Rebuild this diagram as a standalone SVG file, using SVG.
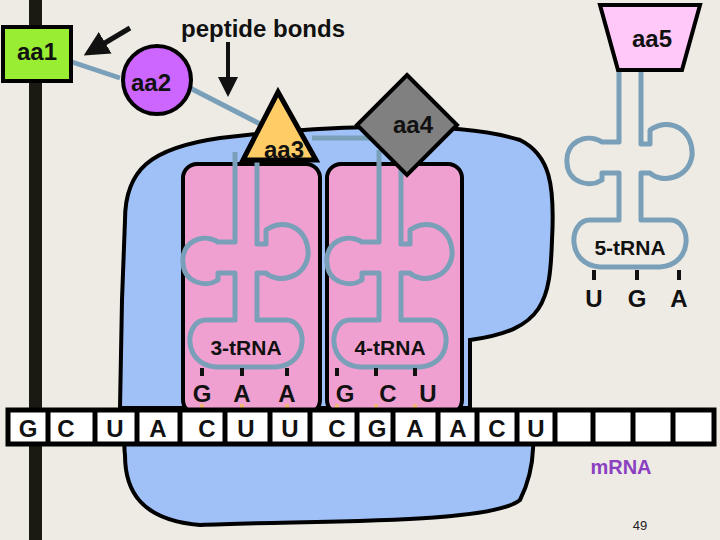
<svg xmlns="http://www.w3.org/2000/svg" width="720" height="540" viewBox="0 0 720 540">
<defs>
<style>
text{font-family:"Liberation Sans",Arial,sans-serif;font-weight:bold;}
.lbl{font-size:24px;fill:#111;}
.base{font-size:24px;fill:#111;text-anchor:middle;}
.trna{fill:none;stroke:#7a9fb8;stroke-width:5;stroke-linejoin:round;}
.tick{stroke:#111;stroke-width:4;}
.pair{stroke:#f0b870;stroke-width:4;}
.tlab{font-size:21px;fill:#111;text-anchor:middle;}
.pink{fill:#f0a0d0;stroke:#000;stroke-width:4;}
</style>
<marker id="ah" viewBox="0 0 10 10" refX="8" refY="5" markerWidth="5" markerHeight="5" orient="auto"><path d="M0,0L10,5L0,10z" fill="#111"/></marker>
<path id="clover" class="trna" d="M-11,-150 V-126 H-28 C-45,-136 -65,-125 -63,-105 C-62,-85 -40,-80 -28,-88 V-95 H-11 V-48 H-40 C-62,-48 -64,-3 -30,-1 H30 C64,-3 62,-48 40,-48 H11 V-95 H20 C30,-85 58,-88 62,-112 C64,-138 40,-152 20,-138 V-124 H11 V-150"/>
</defs>
<rect width="720" height="540" fill="#edebe4"/>
<rect x="29" y="0" width="13" height="540" fill="#1a1a12"/>
<g id="ribosome">
<path d="M125,455 C120,420 150,410 160,410 L520,410 C540,420 535,470 520,500 C490,525 300,520 200,525 C140,520 125,490 125,455Z" fill="#a0c0f8" stroke="#000" stroke-width="4"/>
<path d="M125,220 C125,170 150,148 220,138 C300,128 450,118 520,140 C550,155 555,185 552,240 C550,300 545,330 470,340 L470,408 L120,408 L122,300 Z" fill="#a0c0f8" stroke="#000" stroke-width="4"/>
</g>
<g id="site3"><rect class="pink" x="183" y="164" width="137" height="250" rx="14"/></g>
<g id="site4"><rect class="pink" x="327" y="164" width="135" height="250" rx="14"/></g>
<g id="connectors">
<line x1="72" y1="62" x2="120" y2="78" stroke="#7a9fb8" stroke-width="5"/>
<line x1="190" y1="88" x2="262" y2="125" stroke="#7a9fb8" stroke-width="5"/>
<line x1="312" y1="138" x2="395" y2="138" stroke="#7a9fb8" stroke-width="5"/>
<line x1="130" y1="28" x2="88" y2="53" stroke="#111" stroke-width="5" marker-end="url(#ah)"/>
<line x1="228" y1="42" x2="228" y2="93" stroke="#111" stroke-width="4" marker-end="url(#ah)"/>
</g>
<g id="trna3"><use href="#clover" x="246" y="368"/><path class="trna" d="M235,218 V152 M257,218 V160"/><text class="tlab" x="246" y="355">3-tRNA</text></g>
<g id="trna4"><use href="#clover" x="390" y="368"/><path class="trna" d="M379,218 V150 M401,218 V158"/><text class="tlab" x="390" y="355">4-tRNA</text></g>
<g id="trna5"><use href="#clover" x="630" y="268"/><path class="trna" d="M619,118 V60 M641,118 V60"/><text class="tlab" x="630" y="255">5-tRNA</text></g>
<g id="anticodons">
<line class="tick" x1="202" y1="368" x2="202" y2="376"/><line class="tick" x1="242" y1="368" x2="242" y2="376"/><line class="tick" x1="287" y1="368" x2="287" y2="376"/>
<line class="tick" x1="337" y1="368" x2="337" y2="376"/><line class="tick" x1="376" y1="368" x2="376" y2="376"/><line class="tick" x1="415" y1="368" x2="415" y2="376"/>
<line class="tick" x1="594" y1="270" x2="594" y2="280"/><line class="tick" x1="637" y1="270" x2="637" y2="280"/><line class="tick" x1="679" y1="270" x2="679" y2="280"/>
<text class="base" x="202" y="402">G</text><text class="base" x="242" y="402">A</text><text class="base" x="287" y="402">A</text>
<text class="base" x="345" y="402">G</text><text class="base" x="388" y="402">C</text><text class="base" x="428" y="402">U</text>
<text class="base" x="594" y="307">U</text><text class="base" x="637" y="307">G</text><text class="base" x="679" y="307">A</text>
<line class="pair" x1="202" y1="404" x2="202" y2="412"/><line class="pair" x1="242" y1="404" x2="242" y2="412"/><line class="pair" x1="287" y1="404" x2="287" y2="412"/>
<line class="pair" x1="337" y1="404" x2="337" y2="412"/><line class="pair" x1="376" y1="404" x2="376" y2="412"/><line class="pair" x1="415" y1="404" x2="415" y2="412"/>
</g>
<g id="mrna">
<rect x="8" y="410" width="706" height="34" fill="#fff" stroke="#000" stroke-width="5"/>
<g stroke="#000" stroke-width="5">
<line x1="48" y1="410" x2="48" y2="444"/><line x1="95" y1="410" x2="95" y2="444"/><line x1="137" y1="410" x2="137" y2="444"/>
<line x1="180" y1="410" x2="180" y2="444"/><line x1="225" y1="410" x2="225" y2="444"/><line x1="270" y1="410" x2="270" y2="444"/>
<line x1="310" y1="410" x2="310" y2="444"/><line x1="357" y1="410" x2="357" y2="444"/><line x1="393" y1="410" x2="393" y2="444"/>
<line x1="438" y1="410" x2="438" y2="444"/><line x1="477" y1="410" x2="477" y2="444"/><line x1="517" y1="410" x2="517" y2="444"/>
<line x1="555" y1="410" x2="555" y2="444"/><line x1="593" y1="410" x2="593" y2="444"/><line x1="633" y1="410" x2="633" y2="444"/><line x1="673" y1="410" x2="673" y2="444"/>
</g>
<text class="base" x="28" y="437">G</text><text class="base" x="66" y="437">C</text><text class="base" x="115" y="437">U</text>
<text class="base" x="158" y="437">A</text><text class="base" x="207" y="437">C</text><text class="base" x="246" y="437">U</text>
<text class="base" x="290" y="437">U</text><text class="base" x="337" y="437">C</text><text class="base" x="377" y="437">G</text>
<text class="base" x="415" y="437">A</text><text class="base" x="458" y="437">A</text><text class="base" x="497" y="437">C</text><text class="base" x="536" y="437">U</text>
<text x="621" y="474" font-size="20" fill="#8a40c0" text-anchor="middle">mRNA</text>
</g>
<g id="aa1"><rect x="3" y="27" width="68" height="54" fill="#99ee33" stroke="#000" stroke-width="4"/><text class="lbl" x="37" y="60" text-anchor="middle">aa1</text></g>
<g id="aa2"><circle cx="157" cy="80" r="34" fill="#cc66ff" stroke="#000" stroke-width="4"/><text class="lbl" x="151" y="91" text-anchor="middle">aa2</text></g>
<g id="aa3"><path d="M278,92 L316,160 L243,160Z" fill="#ffcc66" stroke="#000" stroke-width="5"/><text class="lbl" x="284" y="158" text-anchor="middle">aa3</text></g>
<g id="aa4"><path d="M407,75 L457,125 L407,175 L357,125Z" fill="#808080" stroke="#000" stroke-width="4"/><text class="lbl" x="413" y="133" text-anchor="middle">aa4</text></g>
<g id="aa5"><path d="M600,5 L700,5 L682,70 L618,70Z" fill="#ffc8f8" stroke="#000" stroke-width="4"/><text class="lbl" x="652" y="47" text-anchor="middle">aa5</text></g>
<text class="lbl" x="263" y="37" text-anchor="middle">peptide bonds</text>
<text x="640" y="530" font-size="13" fill="#222" style="font-weight:normal" text-anchor="middle">49</text>
</svg>
